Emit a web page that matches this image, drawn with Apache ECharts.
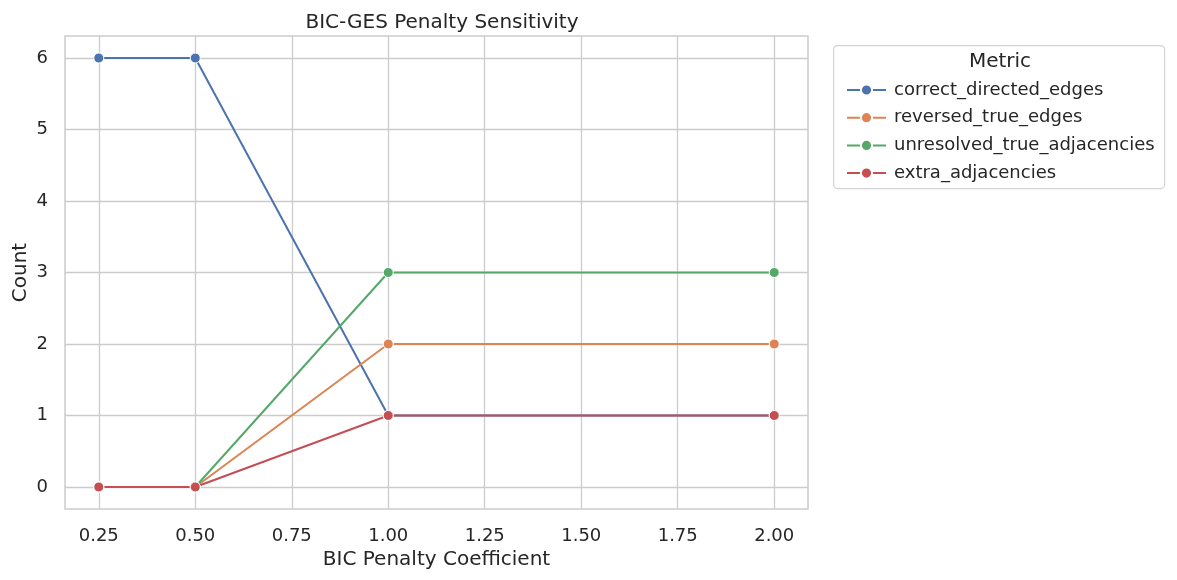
<!DOCTYPE html>
<html>
<head>
<meta charset="utf-8">
<script src="https://cdn.jsdelivr.net/npm/echarts@6/dist/echarts.min.js"></script>
<style>
  html, body { margin: 0; padding: 0; background: #fff; }
  #chart { width: 1177px; height: 580px; }
</style>
</head>
<body>
<div id="chart"></div>
<script>
// penalty coefficients on the x axis
const penalties = [0.25, 0.5, 1.0, 2.0];
const correctDirected = [6, 6, 1, 1];
const reversedTrue = [0, 0, 2, 2];
const unresolvedTrue = [0, 0, 3, 3];
const extraAdj = [0, 0, 1, 1];
const xTicks = [0.25, 0.5, 0.75, 1.0, 1.25, 1.5, 1.75, 2.0];
const yTicks = [0, 1, 2, 3, 4, 5, 6];

const seriesNames = ["correct_directed_edges", "reversed_true_edges", "unresolved_true_adjacencies", "extra_adjacencies"];
const seriesData = [correctDirected, reversedTrue, unresolvedTrue, extraAdj];
const colors = ["#4c72b0", "#dd8452", "#55a868", "#c44e52"];

const chart = echarts.init(document.getElementById("chart"));
const font = "DejaVu Sans";
const textColor = "#262626";

chart.setOption({
  animation: false,
  textStyle: { fontFamily: font },
  title: {
    text: "BIC-GES Penalty Sensitivity",
    left: 437, top: 8, textAlign: "center",
    textStyle: { fontSize: 20, fontWeight: "normal", color: textColor, fontFamily: font }
  },
  grid: {
    left: 65, right: 369, top: 36, bottom: 71,
    outerBoundsMode: "none", containLabel: false,
    show: true, borderColor: "#cccccc", borderWidth: 1.5
  },
  xAxis: {
    type: "value",
    min: 0.1625, max: 2.0875,
    name: "BIC Penalty Coefficient",
    nameLocation: "middle", nameGap: 39,
    nameTextStyle: { fontSize: 20, color: textColor },
    axisLine: { show: false },
    axisTick: { show: false, customValues: xTicks },
    axisLabel: { customValues: xTicks, fontSize: 18, color: textColor, margin: 18, formatter: v => v.toFixed(2) },
    splitLine: { show: true, lineStyle: { color: "#cccccc", width: 1.3 } }
  },
  yAxis: {
    type: "value",
    min: -0.308, max: 6.308,
    name: "Count",
    nameLocation: "middle", nameGap: 34, nameRotate: 90, nameMoveOverlap: false,
    nameTextStyle: { fontSize: 20, color: textColor },
    axisLine: { show: false },
    axisTick: { show: false, customValues: yTicks },
    axisLabel: { customValues: yTicks, fontSize: 18, color: textColor, margin: 17 },
    splitLine: { show: true, lineStyle: { color: "#cccccc", width: 1.3 } }
  },
  legend: {
    orient: "vertical",
    left: 841, top: 76,
    itemWidth: 39, itemHeight: 14, itemGap: 9.7,
    textStyle: { fontSize: 18, lineHeight: 18, color: textColor, padding: [0, 0, 0, 3] },
    data: seriesNames
  },
  graphic: [
    { type: "rect", left: 833, top: 45, shape: { width: 331, height: 143, r: 4 }, style: { fill: "#fff", stroke: "#d4d4d4", lineWidth: 1.2 }, z: -1 },
    { type: "text", x: 1000, y: 62, style: { text: "Metric", fontSize: 20, fill: textColor, fontFamily: font, align: "center", verticalAlign: "middle" } }
  ],
  series: seriesNames.map((name, i) => ({
    name: name,
    type: "line",
    data: penalties.map((p, j) => [p, seriesData[i][j]]),
    color: colors[i],
    lineStyle: { width: 2 },
    symbol: "circle",
    symbolSize: 10,
    itemStyle: { color: colors[i], borderColor: "#fff", borderWidth: 1 }
  }))
});
</script>
</body>
</html>
